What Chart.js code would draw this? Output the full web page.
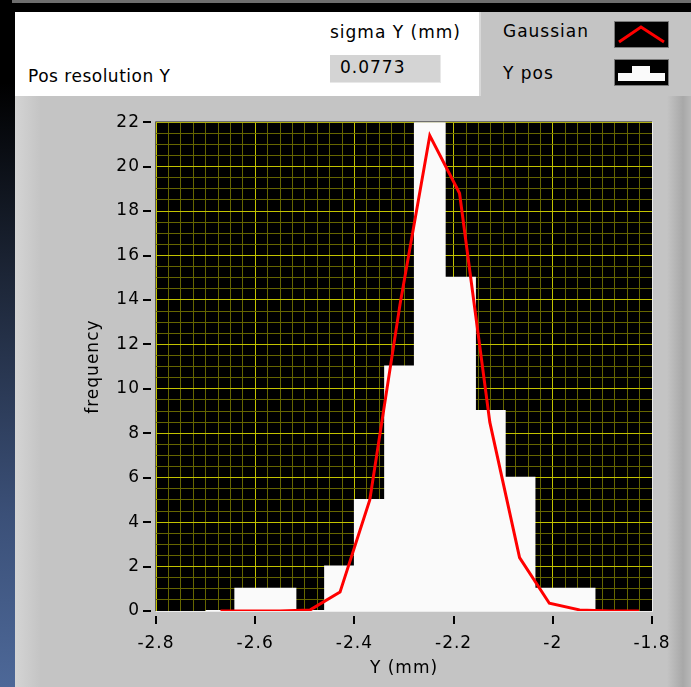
<!DOCTYPE html>
<html>
<head>
<meta charset="utf-8">
<script src="https://cdn.jsdelivr.net/npm/chart.js@4.4.0/dist/chart.umd.min.js"></script>
<style>
  body { margin: 0; width: 691px; height: 687px; background: #000; position: relative; overflow: hidden;
         font-family: "DejaVu Sans", sans-serif; color: #000; }
  #leftStrip { position: absolute; left: 0; top: 0; width: 15px; height: 687px;
               background: linear-gradient(#000 0%, #000 12%, #1c2536 40%, #3b5078 75%, #4d6898 100%); }
  #topBar { position: absolute; left: 12px; top: 0; width: 679px; height: 3px; background: #6e6e6e; }
  #titlePanel { position: absolute; left: 15px; top: 12px; width: 464px; height: 84px; background: #fff; }
  #legendPanel { position: absolute; left: 479px; top: 12px; width: 212px; height: 84px; background: #c4c4c4;
                 border-left: 2px solid #d8d8d8; box-sizing: border-box; }
  .lbl { position: absolute; font-size: 17px; letter-spacing: 1px; white-space: nowrap; }
  #sigmaBox { position: absolute; left: 315px; top: 43px; width: 111px; height: 28px; background: #d4d4d4;
              border-right: 1px solid #e8e8e8; border-bottom: 1px solid #e8e8e8; box-sizing: border-box;
              font-size: 17px; letter-spacing: 1px; padding: 2px 0 0 10px; }
  .swatch { position: absolute; left: 133px; width: 55px; height: 27px; }
  #plotPanel { position: absolute; left: 15px; top: 96px; width: 676px; height: 591px;
               background: linear-gradient(90deg, #d4d4d4 0px, #c4c4c4 26px, #c4c4c4 652px, #a8a8a8 668px, #b8b8b8 676px); }
  #chart { position: absolute; left: 0; top: 0; }
</style>
</head>
<body>
<div id="leftStrip"></div>
<div id="topBar"></div>
<div id="titlePanel">
  <span class="lbl" style="left:315px;top:10px;">sigma Y (mm)</span>
  <div id="sigmaBox">0.0773</div>
  <span class="lbl" style="left:13px;top:54px;letter-spacing:0.5px;">Pos resolution Y</span>
</div>
<div id="legendPanel">
  <span class="lbl" style="left:22px;top:9px;">Gaussian</span>
  <svg class="swatch" style="top:9px;" viewBox="0 0 55 27">
    <rect x="0.5" y="0.5" width="54" height="26" fill="#000" stroke="#7a7a7a"/>
    <polyline points="5,21 27,6 50,21" fill="none" stroke="#f00" stroke-width="3"/>
  </svg>
  <span class="lbl" style="left:22px;top:51px;">Y pos</span>
  <svg class="swatch" style="top:47px;" viewBox="0 0 55 27">
    <rect x="0.5" y="0.5" width="54" height="26" fill="#000" stroke="#7a7a7a"/>
    <path d="M4,22 V14 H18 V7 H36 V14 H51 V22 Z" fill="#fafafa"/>
  </svg>
</div>
<div id="plotPanel"><canvas id="chart" width="676" height="591"></canvas></div>

<script>
// Histogram of Y positions (bin edges + counts) and the Gaussian fit
const binEdges = [-2.700, -2.640, -2.580, -2.519, -2.459, -2.399, -2.338, -2.278, -2.218, -2.157, -2.097, -2.037, -1.976, -1.916, -1.856];
const counts   = [0, 1, 1, 0, 2, 5, 11, 22, 15, 9, 6, 1, 1, 0];
const fitX = [-2.670, -2.610, -2.550, -2.489, -2.429, -2.369, -2.308, -2.248, -2.188, -2.127, -2.067, -2.007, -1.946, -1.886, -1.826];
const fitY = [0, 0, 0, 0.05, 0.85, 5.0, 13.8, 21.4, 18.8, 8.5, 2.4, 0.35, 0.05, 0, 0];

// axis ranges / tick steps
const xRange = [-2.8, -1.8];
const xSteps = [0.2, 0.025];   // major, minor
const yRange = [0, 22];
const ySteps = [2, 0.5];

const isMajor = (v, step) => Math.abs(v / step - Math.round(v / step)) < 1e-6;

// step line: value of bin i runs from edge i to edge i+1
const histData = binEdges.map((x, i) => ({ x: x, y: counts[Math.min(i, counts.length - 1)] }));
const fitData = fitX.map((x, i) => ({ x: x, y: fitY[i] }));

const FONT = { family: '"DejaVu Sans", sans-serif', size: 17 };

// black plot background + recessed frame + detached tick marks
const plotDecor = {
  id: 'plotDecor',
  beforeDraw(chart) {
    const a = chart.chartArea, c = chart.ctx;
    c.letterSpacing = '1px';
    c.save();
    c.fillStyle = '#000';
    c.fillRect(a.left, a.top, a.right - a.left, a.bottom - a.top);
    c.restore();
  },
  afterDatasetsDraw(chart) {
    const a = chart.chartArea, c = chart.ctx;
    c.save();
    c.lineWidth = 1;
    c.strokeStyle = '#5a5a5a';
    c.beginPath();
    c.moveTo(a.left - 0.5, a.bottom); c.lineTo(a.left - 0.5, a.top - 0.5); c.lineTo(a.right, a.top - 0.5);
    c.stroke();
    c.strokeStyle = '#ececec';
    c.beginPath();
    c.moveTo(a.right + 0.5, a.top); c.lineTo(a.right + 0.5, a.bottom + 0.5); c.lineTo(a.left, a.bottom + 0.5);
    c.stroke();
    // tick marks
    c.strokeStyle = '#000';
    c.lineWidth = 2;
    const xs = chart.scales.x, ys = chart.scales.y;
    xs.ticks.forEach(t => {
      if (!isMajor(t.value, xSteps[0])) return;
      const px = Math.round(xs.getPixelForValue(t.value));
      c.beginPath(); c.moveTo(px, a.bottom + 5); c.lineTo(px, a.bottom + 13); c.stroke();
    });
    ys.ticks.forEach(t => {
      if (!isMajor(t.value, ySteps[0])) return;
      const py = Math.round(ys.getPixelForValue(t.value));
      c.beginPath(); c.moveTo(a.left - 13, py); c.lineTo(a.left - 5, py); c.stroke();
    });
    c.restore();
  }
};

new Chart(document.getElementById('chart'), {
  type: 'line',
  data: {
    datasets: [
      {
        label: 'Gaussian',
        data: fitData,
        borderColor: '#ff0000',
        borderWidth: 3,
        pointRadius: 0,
        tension: 0,
        order: 0
      },
      {
        label: 'Y pos',
        data: histData,
        stepped: 'before',
        borderColor: '#fafafa',
        borderWidth: 2,
        backgroundColor: '#fafafa',
        fill: 'origin',
        pointRadius: 0,
        order: 1
      }
    ]
  },
  options: {
    responsive: false,
    animation: false,
    devicePixelRatio: 1,
    layout: { padding: { left: 68, top: 19, right: 39, bottom: 8 } },
    plugins: { legend: { display: false }, tooltip: { enabled: false } },
    scales: {
      x: {
        type: 'linear',
        min: xRange[0], max: xRange[1],
        afterFit: s => { s.height = 68; },
        border: { display: false },
        grid: {
          drawTicks: false,
          color: ctx => isMajor(ctx.tick.value, xSteps[0]) ? '#c2c200' : '#666600'
        },
        ticks: {
          stepSize: xSteps[1],
          autoSkip: false,
          maxRotation: 0,
          padding: 22,
          color: '#000',
          font: FONT,
          callback: v => isMajor(v, xSteps[0]) ? String(Math.round(v * 10) / 10) : ''
        },
        title: { display: true, text: 'Y (mm)', color: '#000', font: FONT, padding: 0 }
      },
      y: {
        min: yRange[0], max: yRange[1],
        afterFit: s => { s.width = 141 - 68; },
        border: { display: false },
        grid: {
          drawTicks: false,
          color: ctx => isMajor(ctx.tick.value, ySteps[0]) ? '#c2c200' : '#666600'
        },
        ticks: {
          stepSize: ySteps[1],
          autoSkip: false,
          padding: 16,
          color: '#000',
          font: FONT,
          callback: v => isMajor(v, ySteps[0]) ? String(v) : ''
        },
        title: { display: true, text: 'frequency', color: '#000', font: FONT, padding: 0 }
      }
    }
  },
  plugins: [plotDecor]
});
</script>
</body>
</html>
